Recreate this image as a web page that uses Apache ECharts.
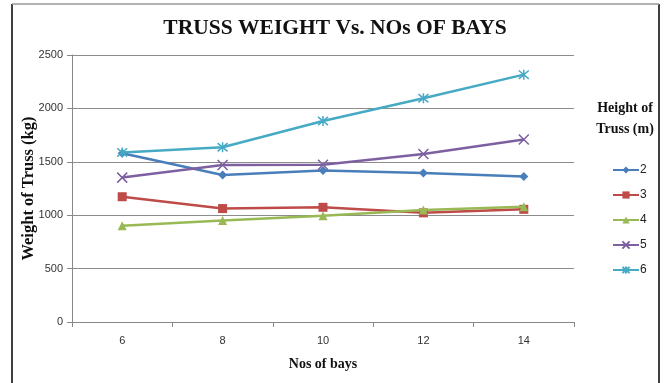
<!DOCTYPE html>
<html>
<head>
<meta charset="utf-8">
<script src="https://cdn.jsdelivr.net/npm/echarts@6/dist/echarts.min.js"></script>
<style>
  html, body { margin: 0; padding: 0; background: #fff; }
  #chart { width: 664px; height: 383px; }
</style>
</head>
<body>
<div id="chart"></div>
<script>
// Number of bays on the x axis
const bays = ['6', '8', '10', '12', '14'];

// Truss weight (kg) for each truss height (m)
const h2 = [1580, 1376, 1418, 1396, 1363];
const h3 = [1173, 1062, 1074, 1022, 1055];
const h4 = [902, 950, 995, 1048, 1080];
const h5 = [1352, 1470, 1472, 1573, 1708];
const h6 = [1588, 1636, 1882, 2095, 2316];

const seriesNames = ['2', '3', '4', '5', '6'];
const yTicks = { min: 0, max: 2500, interval: 500 };

const colors = ['#4A7EBB', '#BE4B48', '#98B954', '#7D60A0', '#46AAC5'];
const symbols = [
  'diamond',
  'rect',
  'triangle',
  'path://M0,0L10,10M10,0L0,10',
  'path://M0,0L10,10M10,0L0,10M5,-1L5,11'
];
const symbolSizes = [9, 9, 9, 10, 10];
const dataSets = [h2, h3, h4, h5, h6];

const serifBold = { fontFamily: 'Liberation Serif', fontWeight: 'bold', color: '#111' };

const chart = echarts.init(document.getElementById('chart'), null, { renderer: 'canvas' });

chart.setOption({
  backgroundColor: '#fff',
  animation: false,
  title: [
    {
      text: 'TRUSS WEIGHT Vs. NOs OF BAYS',
      left: 330, top: 12, textAlign: 'center',
      textStyle: Object.assign({ fontSize: 21.5 }, serifBold)
    },
    {
      text: 'Height of\nTruss (m)',
      left: 620, top: 93, textAlign: 'center',
      textStyle: Object.assign({ fontSize: 14, lineHeight: 21 }, serifBold)
    }
  ],
  legend: {
    orient: 'vertical',
    left: 607, top: 159,
    itemWidth: 26, itemHeight: 9,
    itemGap: 13,
    textStyle: { fontFamily: 'Liberation Sans', fontSize: 12, color: '#222', padding: [0, 0, 0, -4] },
    data: seriesNames
  },
  grid: { left: 72, right: 90, top: 55, bottom: 61 },
  xAxis: {
    type: 'category',
    data: bays,
    boundaryGap: true,
    name: 'Nos of bays',
    nameLocation: 'middle',
    nameGap: 35,
    nameMoveOverlap: false,
    nameTextStyle: Object.assign({ fontSize: 14 }, serifBold),
    axisLine: { lineStyle: { color: '#888', width: 1 } },
    axisTick: { show: true, alignWithLabel: false, length: 5, lineStyle: { color: '#888' } },
    axisLabel: { fontFamily: 'Liberation Sans', fontSize: 11, color: '#333', margin: 13 }
  },
  yAxis: {
    type: 'value',
    min: yTicks.min, max: yTicks.max, interval: yTicks.interval,
    name: 'Weight of Truss (kg)',
    nameLocation: 'middle',
    nameGap: 35,
    nameMoveOverlap: false,
    nameTextStyle: Object.assign({ fontSize: 16.5 }, serifBold),
    axisLine: { show: true, lineStyle: { color: '#888', width: 1 } },
    axisTick: { show: true, length: 5, lineStyle: { color: '#888' } },
    splitLine: { lineStyle: { color: '#8c8c8c', width: 1 } },
    axisLabel: {
      fontFamily: 'Liberation Sans', fontSize: 11, color: '#333', margin: 9,
      formatter: v => String(v)
    }
  },
  series: dataSets.map((d, i) => ({
    name: seriesNames[i],
    type: 'line',
    data: d,
    symbol: symbols[i],
    symbolSize: symbolSizes[i],
    showSymbol: true,
    lineStyle: { color: colors[i], width: 2.5 },
    itemStyle: {
      color: colors[i],
      borderColor: colors[i],
      borderWidth: i >= 3 ? 1.5 : 0
    },
    z: 2 + i
  })),
  graphic: [
    { type: 'line', shape: { x1: 12, y1: 4, x2: 12, y2: 383 }, style: { stroke: '#000', lineWidth: 1.5 } },
    { type: 'line', shape: { x1: 659, y1: 4, x2: 659, y2: 383 }, style: { stroke: '#000', lineWidth: 1.5 } },
    { type: 'line', shape: { x1: 12, y1: 4, x2: 659, y2: 4 }, style: { stroke: '#999', lineWidth: 1.5 } }
  ]
});
</script>
</body>
</html>
